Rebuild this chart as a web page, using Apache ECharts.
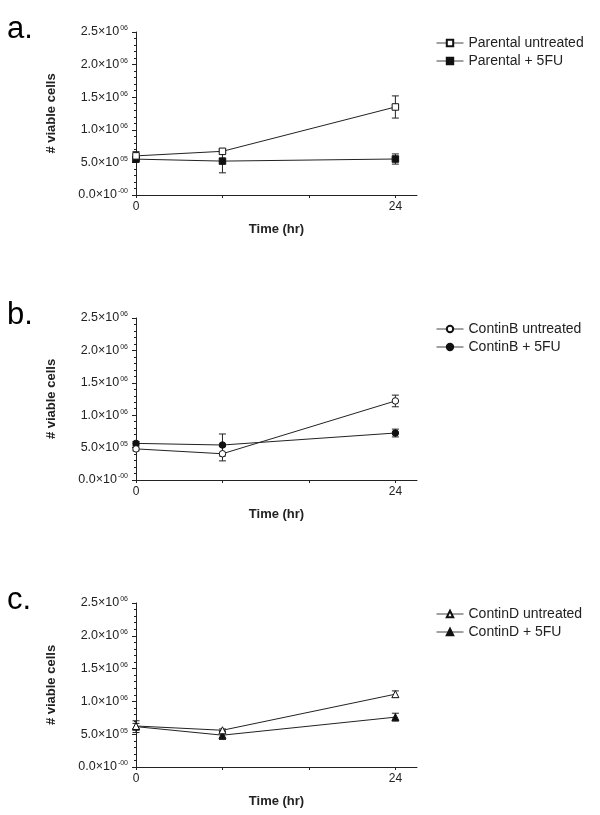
<!DOCTYPE html>
<html>
<head>
<meta charset="utf-8">
<script src="https://cdn.jsdelivr.net/npm/echarts@6/dist/echarts.min.js"></script>
<style>html,body{margin:0;padding:0;background:#fff;}#c{width:600px;height:815px;}</style>
</head>
<body>
<div id="c"></div>
<script>
// ---- data ----
var timePoints = [0, 8, 24];
var xTickValues = [0, 8, 16, 24];
var xLabelValues = [0, 24];
var panelLabels = ['a.', 'b.', 'c.'];

var parentalUntreated = [600000, 670000, 1350000];
var parentalUntreatedErr = [65000, 20000, 170000];
var parental5FU = [550000, 520000, 552000];
var parental5FUErr = [30000, 180000, 78000];

var continBUntreated = [480000, 405000, 1220000];
var continBUntreatedErr = [30000, 110000, 90000];
var continB5FU = [565000, 540000, 725000];
var continB5FUErr = [30000, 170000, 60000];

var continDUntreated = [625000, 560000, 1110000];
var continDUntreatedErr = [40000, 20000, 50000];
var continD5FU = [615000, 485000, 760000];
var continD5FUErr = [90000, 65000, 60000];

var seriesNames = [
  ['Parental untreated', 'Parental + 5FU'],
  ['ContinB untreated', 'ContinB + 5FU'],
  ['ContinD untreated', 'ContinD + 5FU']
];
var seriesValues = [
  [parentalUntreated, parental5FU],
  [continBUntreated, continB5FU],
  [continDUntreated, continD5FU]
];
var seriesErrors = [
  [parentalUntreatedErr, parental5FUErr],
  [continBUntreatedErr, continB5FUErr],
  [continDUntreatedErr, continD5FUErr]
];
var symbols = [['rect', 'rect'], ['circle', 'circle'], ['triangle', 'triangle']];

// ---- layout ----
var FONT = '"Liberation Sans", Arial, sans-serif';
var INK = '#222';
var gridTops = [32, 318, 603];
var gridHeights = [163, 162, 164];

function yLabel(v) {
  var m, e;
  if (v === 0) { m = '0.0'; e = '-00'; }
  else if (v < 1e6) { m = (v / 1e5).toFixed(1); e = '05'; }
  else { m = (v / 1e6).toFixed(1); e = '06'; }
  return '{m|' + m + '×10}{s|' + e + '}';
}

function errRender(params, api) {
  var x = api.value(0), y = api.value(1), e = api.value(2);
  var p = api.coord([x, y + e]);
  var q = api.coord([x, y - e]);
  var hw = 3.5;
  var st = { stroke: INK, lineWidth: 1 };
  return {
    type: 'group',
    children: [
      { type: 'line', shape: { x1: p[0], y1: p[1], x2: q[0], y2: q[1] }, style: st },
      { type: 'line', shape: { x1: p[0] - hw, y1: p[1], x2: p[0] + hw, y2: p[1] }, style: st },
      { type: 'line', shape: { x1: q[0] - hw, y1: q[1], x2: q[0] + hw, y2: q[1] }, style: st }
    ]
  };
}

var grids = [], xAxes = [], yAxes = [], legends = [], series = [], graphics = [];
for (var i = 0; i < 3; i++) {
  grids.push({ left: 136, width: 281, top: gridTops[i], height: gridHeights[i] });
  xAxes.push({
    type: 'value', gridIndex: i, min: 0, max: 26,
    name: 'Time (hr)', nameLocation: 'middle', nameGap: 28,
    nameTextStyle: { fontFamily: FONT, fontSize: 13, fontWeight: 'bold', color: INK },
    axisLine: { show: true, lineStyle: { color: INK, width: 1 } },
    axisTick: { show: true, length: 3, customValues: xTickValues, lineStyle: { color: INK } },
    axisLabel: { show: true, customValues: xLabelValues, margin: 6, fontFamily: FONT, fontSize: 12, color: INK },
    splitLine: { show: false }
  });
  yAxes.push({
    type: 'value', gridIndex: i, min: 0, max: 2500000, interval: 500000,
    name: '# viable cells', nameLocation: 'middle', nameGap: 78, nameRotate: 90,
    nameTextStyle: { fontFamily: FONT, fontSize: 13, fontWeight: 'bold', color: INK },
    axisLine: { show: true, lineStyle: { color: INK, width: 1 } },
    axisTick: { show: true, length: 4, lineStyle: { color: INK } },
    minorTick: { show: true, splitNumber: 5, length: 2, lineStyle: { color: INK } },
    axisLabel: {
      margin: 8, formatter: yLabel,
      rich: {
        m: { fontFamily: FONT, fontSize: 12.5, color: INK, lineHeight: 14 },
        s: { fontFamily: FONT, fontSize: 7, color: INK, verticalAlign: 'top', lineHeight: 8, padding: [0, 0, 0, 1] }
      }
    },
    splitLine: { show: false }
  });
  legends.push({
    orient: 'vertical', left: 431, top: gridTops[i] - 1,
    itemWidth: 27, itemHeight: 8, itemGap: 4,
    data: seriesNames[i],
    lineStyle: { width: 1, color: '#444' },
    textStyle: { fontFamily: FONT, fontSize: 14, color: INK },
    selectedMode: false
  });
  graphics.push({
    type: 'text', left: 7, top: gridTops[i] - 18,
    style: { text: panelLabels[i], font: '31px ' + FONT, fill: '#000' }
  });
  // error bars first (beneath markers), then 5FU, then untreated on top
  for (var k = 1; k >= 0; k--) {
    var vals = seriesValues[i][k], errs = seriesErrors[i][k];
    var errData = timePoints.map(function (t, j) { return [t, vals[j], errs[j]]; });
    series.push({
      type: 'custom', xAxisIndex: i, yAxisIndex: i, renderItem: errRender,
      data: errData, z: 1, silent: true
    });
  }
  for (var k2 = 1; k2 >= 0; k2--) {
    var v2 = seriesValues[i][k2];
    var open = (k2 === 0);
    series.push({
      type: 'line', name: seriesNames[i][k2], xAxisIndex: i, yAxisIndex: i,
      data: timePoints.map(function (t, j) { return [t, v2[j]]; }),
      symbol: symbols[i][k2], symbolSize: symbols[i][k2] === 'triangle' ? 7 : 6.5,
      showSymbol: true,
      lineStyle: { color: INK, width: 1 },
      itemStyle: { color: open ? '#fff' : '#111', borderColor: '#111', borderWidth: 1 },
      z: open ? 4 : 3, animation: false, silent: true
    });
  }
}

var chart = echarts.init(document.getElementById('c'), null, { renderer: 'canvas' });
chart.setOption({
  animation: false,
  backgroundColor: '#fff',
  grid: grids, xAxis: xAxes, yAxis: yAxes, legend: legends, series: series,
  graphic: graphics
});
</script>
</body>
</html>
